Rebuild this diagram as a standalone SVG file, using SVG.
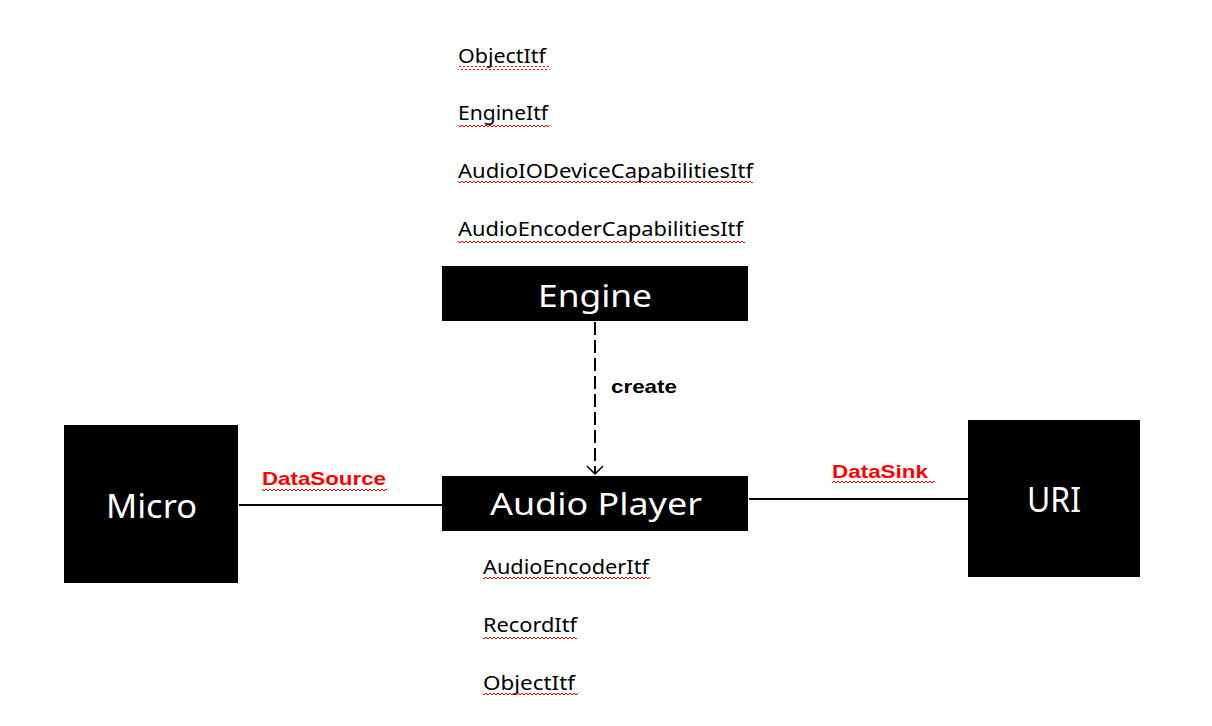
<svg xmlns="http://www.w3.org/2000/svg" width="1212" height="726" viewBox="0 0 1212 726">
<style>
.box{fill:#000}
.lbl{fill:#fff;font-family:"Noto Sans","Open Sans",sans-serif;font-size:31px}
.itf{fill:#000;font-family:"Noto Sans","Open Sans",sans-serif;font-size:19px}
.red{fill:#ff0000;font-family:"Liberation Sans",Arial,sans-serif;font-size:19px;font-weight:bold}
.edge{stroke:#000;stroke-width:2;fill:none}
.wave{fill:url(#wv)}
</style>
<defs>
<pattern id="wv" patternUnits="userSpaceOnUse" width="4" height="4">
<path d="M0,3 L2,1 L4,3" stroke="#ff0000" stroke-width="1" fill="none"/>
</pattern>
<marker id="open" markerWidth="20" markerHeight="20" refX="10" refY="10" orient="auto" markerUnits="userSpaceOnUse">
<path d="M2,2 L10,10 L2,18" stroke="#000" stroke-width="1.5" fill="none"/>
</marker>
</defs>
<rect width="1212" height="726" fill="#fff"/>

<g id="connectors">
<line class="edge" x1="595" y1="322" x2="595" y2="474" stroke-dasharray="13 5" marker-end="url(#open)"/>
<line class="edge" x1="239" y1="505" x2="442" y2="505"/>
<line class="edge" x1="749" y1="499" x2="968" y2="499"/>
<text class="red" x="611" y="393" style="fill:#000" textLength="66" lengthAdjust="spacingAndGlyphs">create</text>
<text class="red" x="262" y="485" textLength="124" lengthAdjust="spacingAndGlyphs">DataSource</text>
<rect class="wave" x="262" y="487" width="125" height="4"/>
<text class="red" x="832" y="478" textLength="96" lengthAdjust="spacingAndGlyphs">DataSink</text>
<rect class="wave" x="832" y="480" width="103" height="4"/>
</g>

<g id="engine-itfs">
<text class="itf" x="458" y="63" textLength="88" lengthAdjust="spacingAndGlyphs">ObjectItf</text>
<rect class="wave" x="458" y="66" width="92" height="4"/>
<text class="itf" x="458" y="120" textLength="90" lengthAdjust="spacingAndGlyphs">EngineItf</text>
<rect class="wave" x="458" y="123" width="92" height="4"/>
<text class="itf" x="458" y="178" textLength="295" lengthAdjust="spacingAndGlyphs">AudioIODeviceCapabilitiesItf</text>
<rect class="wave" x="458" y="181" width="295" height="4"/>
<text class="itf" x="458" y="236" textLength="285" lengthAdjust="spacingAndGlyphs">AudioEncoderCapabilitiesItf</text>
<rect class="wave" x="458" y="239" width="287" height="4"/>
</g>

<g id="engine">
<rect class="box" x="442" y="266" width="306" height="55"/>
<text class="lbl" x="538" y="307" textLength="114" lengthAdjust="spacingAndGlyphs">Engine</text>
</g>

<g id="audio-player">
<rect class="box" x="442" y="476" width="306" height="55"/>
<text class="lbl" x="490" y="515" textLength="212" lengthAdjust="spacingAndGlyphs">Audio Player</text>
</g>

<g id="micro">
<rect class="box" x="64" y="425" width="174" height="158"/>
<text class="lbl" x="106" y="518" style="font-size:33px" textLength="91" lengthAdjust="spacingAndGlyphs">Micro</text>
</g>

<g id="uri">
<rect class="box" x="968" y="420" width="172" height="157"/>
<text class="lbl" x="1027" y="512" style="font-size:35px" textLength="54" lengthAdjust="spacingAndGlyphs">URI</text>
</g>

<g id="player-itfs">
<text class="itf" x="483" y="574" textLength="166" lengthAdjust="spacingAndGlyphs">AudioEncoderItf</text>
<rect class="wave" x="483" y="577" width="167" height="4"/>
<text class="itf" x="483" y="632" textLength="94" lengthAdjust="spacingAndGlyphs">RecordItf</text>
<rect class="wave" x="483" y="635" width="94" height="4"/>
<text class="itf" x="483" y="690" textLength="92" lengthAdjust="spacingAndGlyphs">ObjectItf</text>
<rect class="wave" x="483" y="693" width="95" height="4"/>
</g>
</svg>
